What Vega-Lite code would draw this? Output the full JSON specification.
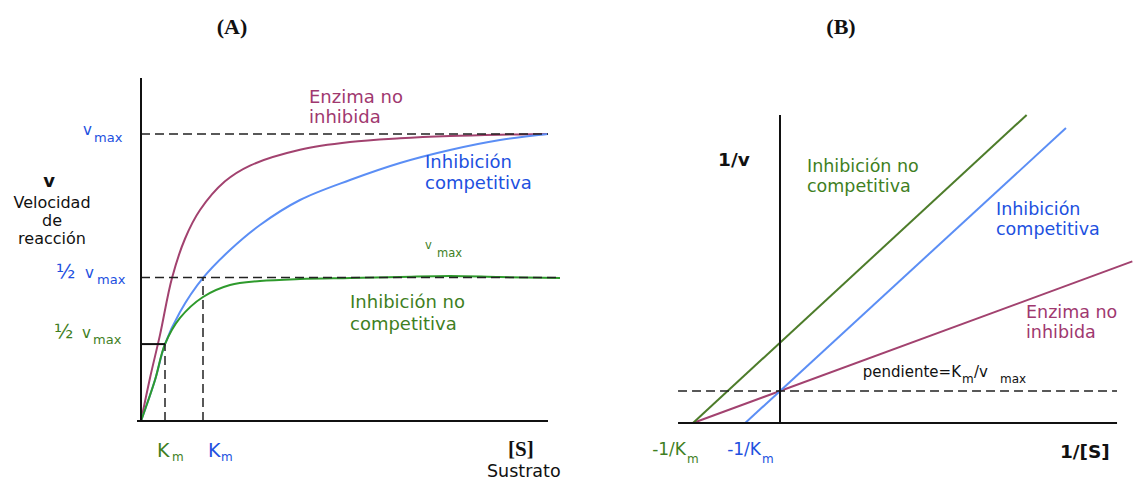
{
  "$schema": "https://vega.github.io/schema/vega-lite/v6.json",
  "padding": 0,
  "spacing": 0,
  "bounds": "flush",
  "background": "white",
  "config": {"view": {"stroke": null}, "text": {"font": "DejaVu Sans"}},
  "resolve": {"scale": {"color": "independent"}},
  "datasets": {
    "a_curves": [
      {"serie": "Enzima no inhibida", "x": 0, "y": 0},
      {"serie": "Enzima no inhibida", "x": 0.225, "y": 0.15},
      {"serie": "Enzima no inhibida", "x": 0.475, "y": 0.3},
      {"serie": "Enzima no inhibida", "x": 0.775, "y": 0.4983},
      {"serie": "Enzima no inhibida", "x": 1.1, "y": 0.635},
      {"serie": "Enzima no inhibida", "x": 1.475, "y": 0.735},
      {"serie": "Enzima no inhibida", "x": 2.1, "y": 0.835},
      {"serie": "Enzima no inhibida", "x": 2.725, "y": 0.89},
      {"serie": "Enzima no inhibida", "x": 3.975, "y": 0.945},
      {"serie": "Enzima no inhibida", "x": 5.225, "y": 0.972},
      {"serie": "Enzima no inhibida", "x": 6.475, "y": 0.985},
      {"serie": "Enzima no inhibida", "x": 7.725, "y": 0.993},
      {"serie": "Enzima no inhibida", "x": 8.975, "y": 0.9975},
      {"serie": "Enzima no inhibida", "x": 10.175, "y": 1.0},
      {"serie": "Inhibición competitiva", "x": 0, "y": 0},
      {"serie": "Inhibición competitiva", "x": 0.35, "y": 0.1429},
      {"serie": "Inhibición competitiva", "x": 0.6, "y": 0.268},
      {"serie": "Inhibición competitiva", "x": 0.975, "y": 0.3798},
      {"serie": "Inhibición competitiva", "x": 1.55, "y": 0.4983},
      {"serie": "Inhibición competitiva", "x": 2.225, "y": 0.5958},
      {"serie": "Inhibición competitiva", "x": 2.975, "y": 0.6829},
      {"serie": "Inhibición competitiva", "x": 3.975, "y": 0.77},
      {"serie": "Inhibición competitiva", "x": 5.225, "y": 0.8397},
      {"serie": "Inhibición competitiva", "x": 6.475, "y": 0.899},
      {"serie": "Inhibición competitiva", "x": 7.725, "y": 0.9443},
      {"serie": "Inhibición competitiva", "x": 8.975, "y": 0.9791},
      {"serie": "Inhibición competitiva", "x": 10.175, "y": 1.0},
      {"serie": "Inhibición no competitiva", "x": 0, "y": 0},
      {"serie": "Inhibición no competitiva", "x": 0.35, "y": 0.1429},
      {"serie": "Inhibición no competitiva", "x": 0.6, "y": 0.268},
      {"serie": "Inhibición no competitiva", "x": 0.975, "y": 0.3589},
      {"serie": "Inhibición no competitiva", "x": 1.55, "y": 0.4321},
      {"serie": "Inhibición no competitiva", "x": 2.225, "y": 0.4739},
      {"serie": "Inhibición no competitiva", "x": 2.975, "y": 0.4878},
      {"serie": "Inhibición no competitiva", "x": 3.975, "y": 0.4948},
      {"serie": "Inhibición no competitiva", "x": 5.225, "y": 0.4983},
      {"serie": "Inhibición no competitiva", "x": 6.475, "y": 0.5017},
      {"serie": "Inhibición no competitiva", "x": 7.725, "y": 0.5052},
      {"serie": "Inhibición no competitiva", "x": 8.975, "y": 0.5017},
      {"serie": "Inhibición no competitiva", "x": 10.475, "y": 0.4983}
    ],
    "a_axes": [
      {"x": 0, "y": 0, "x2": 0, "y2": 1.195},
      {"x": -0.1, "y": 0, "x2": 10.175, "y2": 0},
      {"x": 0, "y": 0.268, "x2": 0.6, "y2": 0.268}
    ],
    "a_dashes": [
      {"x": 0, "y": 1, "x2": 10.175, "y2": 1},
      {"x": 0, "y": 0.5, "x2": 10.475, "y2": 0.5},
      {"x": 0.6, "y": 0, "x2": 0.6, "y2": 0.268},
      {"x": 1.55, "y": 0, "x2": 1.55, "y2": 0.5}
    ],
    "a_text": [
      {"k": "rotulo", "tono": "rotulo enzima", "t": "Enzima no", "x": 4.2, "y": 1.108},
      {"k": "rotulo", "tono": "rotulo enzima", "t": "inhibida", "x": 4.2, "y": 1.038},
      {"k": "rotulo", "tono": "rotulo competitiva", "t": "Inhibición", "x": 7.1, "y": 0.8815},
      {"k": "rotulo", "tono": "rotulo competitiva", "t": "competitiva", "x": 7.1, "y": 0.8084},
      {"k": "rotulo", "tono": "rotulo no competitiva", "t": "Inhibición no", "x": 5.225, "y": 0.3937},
      {"k": "rotulo", "tono": "rotulo no competitiva", "t": "competitiva", "x": 5.225, "y": 0.3171},
      {"k": "eje", "t": "Velocidad", "x": -2.225, "y": 0.7422},
      {"k": "eje", "t": "de", "x": -2.225, "y": 0.6794},
      {"k": "eje", "t": "reacción", "x": -2.225, "y": 0.6167},
      {"k": "negrita", "t": "v", "x": -2.3, "y": 0.8153},
      {"k": "v", "tono": "rotulo competitiva", "t": "v", "x": -1.45, "y": 0.9965},
      {"k": "medio", "tono": "rotulo competitiva", "t": "½", "x": -2.125, "y": 0.4983},
      {"k": "v", "tono": "rotulo competitiva", "t": "v", "x": -1.4, "y": 0.4983},
      {"k": "medio", "tono": "rotulo no competitiva", "t": "½", "x": -2.175, "y": 0.2892},
      {"k": "v", "tono": "rotulo no competitiva", "t": "v", "x": -1.475, "y": 0.2892},
      {"k": "sub", "tono": "rotulo competitiva", "t": "max", "x": -1.175, "y": 0.9721},
      {"k": "sub", "tono": "rotulo competitiva", "t": "max", "x": -1.1, "y": 0.4774},
      {"k": "sub", "tono": "rotulo no competitiva", "t": "max", "x": -1.2, "y": 0.2683},
      {"k": "chico", "tono": "rotulo no competitiva", "t": "v", "x": 7.1, "y": 0.5993},
      {"k": "chico", "tono": "rotulo no competitiva", "t": "max", "x": 7.4, "y": 0.5714},
      {"k": "K", "tono": "rotulo no competitiva", "t": "K", "x": 0.4, "y": -0.1254},
      {"k": "K", "tono": "rotulo competitiva", "t": "K", "x": 1.675, "y": -0.1254},
      {"k": "m", "tono": "rotulo no competitiva", "t": "m", "x": 0.775, "y": -0.1394},
      {"k": "m", "tono": "rotulo competitiva", "t": "m", "x": 2.0, "y": -0.1394},
      {"k": "S", "t": "[S]", "x": 9.175, "y": -0.122},
      {"k": "sustrato", "t": "Sustrato", "x": 8.65, "y": -0.1965},
      {"k": "titulo", "t": "(A)", "x": 2.275, "y": 1.3484}
    ],
    "b_lines": [
      {"serie": "Enzima no inhibida", "x": -1, "y": 0},
      {"serie": "Enzima no inhibida", "x": 4.05, "y": 5.05},
      {"serie": "Inhibición competitiva", "x": -0.4, "y": 0},
      {"serie": "Inhibición competitiva", "x": 3.287, "y": 9.2175},
      {"serie": "Inhibición no competitiva", "x": -1, "y": 0},
      {"serie": "Inhibición no competitiva", "x": 2.835, "y": 9.626}
    ],
    "b_axes": [
      {"x": 0, "y": 0, "x2": 0, "y2": 9.625},
      {"x": -1.172, "y": 0, "x2": 3.874, "y2": 0}
    ],
    "b_dashes": [
      {"x": -1.172, "y": 1, "x2": 3.874, "y2": 1}
    ],
    "b_text": [
      {"k": "rotulo", "tono": "rotulo no competitiva", "t": "Inhibición no", "x": 0.3103, "y": 7.844},
      {"k": "rotulo", "tono": "rotulo no competitiva", "t": "competitiva", "x": 0.3103, "y": 7.219},
      {"k": "rotulo", "tono": "rotulo competitiva", "t": "Inhibición", "x": 2.4828, "y": 6.5},
      {"k": "rotulo", "tono": "rotulo competitiva", "t": "competitiva", "x": 2.4828, "y": 5.875},
      {"k": "rotulo", "tono": "rotulo enzima", "t": "Enzima no", "x": 2.8276, "y": 3.281},
      {"k": "rotulo", "tono": "rotulo enzima", "t": "inhibida", "x": 2.8276, "y": 2.656},
      {"k": "negrita", "t": "1/v", "x": -0.7126, "y": 8.031},
      {"k": "negrita", "t": "1/[S]", "x": 3.218, "y": -1.094},
      {"k": "pend_d", "t": "pendiente=K", "x": 2.0805, "y": 1.4375},
      {"k": "pend_i", "t": "/v", "x": 2.2299, "y": 1.4375},
      {"k": "pend_sub", "t": "m", "x": 2.092, "y": 1.25},
      {"k": "pend_sub", "t": "max", "x": 2.5287, "y": 1.25},
      {"k": "inv", "tono": "rotulo no competitiva", "t": "-1/K", "x": -1.0805, "y": -1.0},
      {"k": "inv", "tono": "rotulo competitiva", "t": "-1/K", "x": -0.2184, "y": -1.0},
      {"k": "m", "tono": "rotulo no competitiva", "t": "m", "x": -1.069, "y": -1.25},
      {"k": "m", "tono": "rotulo competitiva", "t": "m", "x": -0.2069, "y": -1.25},
      {"k": "titulo", "t": "(B)", "x": 0.7011, "y": 12.156}
    ]
  },
  "hconcat": [
    {
      "width": 600,
      "height": 486,
      "encoding": {
        "x": {"field": "x", "type": "quantitative", "axis": null, "scale": {"domain": [-3.525, 11.475], "nice": false, "zero": false}},
        "y": {"field": "y", "type": "quantitative", "axis": null, "scale": {"domain": [-0.22648, 1.4669], "nice": false, "zero": false}}
      },
      "layer": [
        {
          "data": {"name": "a_curves"},
          "mark": {"type": "line", "interpolate": "catmull-rom", "strokeWidth": 2},
          "encoding": {
            "color": {"field": "serie", "type": "nominal", "legend": null,
              "scale": {"domain": ["Enzima no inhibida", "Inhibición competitiva", "Inhibición no competitiva", "rotulo enzima", "rotulo competitiva", "rotulo no competitiva"],
                        "range": ["#a2426f", "#5b8ef5", "#2e9a2c", "#a0386f", "#2150e0", "#3f7f1f"]}}
          }
        },
        {
          "data": {"name": "a_dashes"},
          "mark": {"type": "rule", "color": "#222222", "strokeWidth": 1.5, "strokeDash": [9, 5]},
          "encoding": {"x2": {"field": "x2"}, "y2": {"field": "y2"}}
        },
        {
          "data": {"name": "a_axes"},
          "mark": {"type": "rule", "color": "#111111", "strokeWidth": 2},
          "encoding": {"x2": {"field": "x2"}, "y2": {"field": "y2"}}
        },
        {
          "data": {"name": "a_text"},
          "transform": [{"filter": "datum.k === 'rotulo'"}],
          "mark": {"type": "text", "align": "left", "baseline": "alphabetic", "fontSize": 18},
          "encoding": {
            "text": {"field": "t"},
            "color": {"field": "tono", "type": "nominal", "legend": null,
              "scale": {"domain": ["Enzima no inhibida", "Inhibición competitiva", "Inhibición no competitiva", "rotulo enzima", "rotulo competitiva", "rotulo no competitiva"],
                        "range": ["#a2426f", "#5b8ef5", "#2e9a2c", "#a0386f", "#2150e0", "#3f7f1f"]}}
          }
        },
        {
          "data": {"name": "a_text"},
          "transform": [{"filter": "datum.k === 'v'"}],
          "mark": {"type": "text", "align": "left", "baseline": "alphabetic", "fontSize": 15},
          "encoding": {
            "text": {"field": "t"},
            "color": {"field": "tono", "type": "nominal", "legend": null,
              "scale": {"domain": ["Enzima no inhibida", "Inhibición competitiva", "Inhibición no competitiva", "rotulo enzima", "rotulo competitiva", "rotulo no competitiva"],
                        "range": ["#a2426f", "#5b8ef5", "#2e9a2c", "#a0386f", "#2150e0", "#3f7f1f"]}}
          }
        },
        {
          "data": {"name": "a_text"},
          "transform": [{"filter": "datum.k === 'medio'"}],
          "mark": {"type": "text", "align": "left", "baseline": "alphabetic", "fontSize": 20},
          "encoding": {
            "text": {"field": "t"},
            "color": {"field": "tono", "type": "nominal", "legend": null,
              "scale": {"domain": ["Enzima no inhibida", "Inhibición competitiva", "Inhibición no competitiva", "rotulo enzima", "rotulo competitiva", "rotulo no competitiva"],
                        "range": ["#a2426f", "#5b8ef5", "#2e9a2c", "#a0386f", "#2150e0", "#3f7f1f"]}}
          }
        },
        {
          "data": {"name": "a_text"},
          "transform": [{"filter": "datum.k === 'sub'"}],
          "mark": {"type": "text", "align": "left", "baseline": "alphabetic", "fontSize": 13},
          "encoding": {
            "text": {"field": "t"},
            "color": {"field": "tono", "type": "nominal", "legend": null,
              "scale": {"domain": ["Enzima no inhibida", "Inhibición competitiva", "Inhibición no competitiva", "rotulo enzima", "rotulo competitiva", "rotulo no competitiva"],
                        "range": ["#a2426f", "#5b8ef5", "#2e9a2c", "#a0386f", "#2150e0", "#3f7f1f"]}}
          }
        },
        {
          "data": {"name": "a_text"},
          "transform": [{"filter": "datum.k === 'chico'"}],
          "mark": {"type": "text", "align": "left", "baseline": "alphabetic", "fontSize": 11.5},
          "encoding": {
            "text": {"field": "t"},
            "color": {"field": "tono", "type": "nominal", "legend": null,
              "scale": {"domain": ["Enzima no inhibida", "Inhibición competitiva", "Inhibición no competitiva", "rotulo enzima", "rotulo competitiva", "rotulo no competitiva"],
                        "range": ["#a2426f", "#5b8ef5", "#2e9a2c", "#a0386f", "#2150e0", "#3f7f1f"]}}
          }
        },
        {
          "data": {"name": "a_text"},
          "transform": [{"filter": "datum.k === 'K'"}],
          "mark": {"type": "text", "align": "left", "baseline": "alphabetic", "fontSize": 19},
          "encoding": {
            "text": {"field": "t"},
            "color": {"field": "tono", "type": "nominal", "legend": null,
              "scale": {"domain": ["Enzima no inhibida", "Inhibición competitiva", "Inhibición no competitiva", "rotulo enzima", "rotulo competitiva", "rotulo no competitiva"],
                        "range": ["#a2426f", "#5b8ef5", "#2e9a2c", "#a0386f", "#2150e0", "#3f7f1f"]}}
          }
        },
        {
          "data": {"name": "a_text"},
          "transform": [{"filter": "datum.k === 'm'"}],
          "mark": {"type": "text", "align": "left", "baseline": "alphabetic", "fontSize": 12},
          "encoding": {
            "text": {"field": "t"},
            "color": {"field": "tono", "type": "nominal", "legend": null,
              "scale": {"domain": ["Enzima no inhibida", "Inhibición competitiva", "Inhibición no competitiva", "rotulo enzima", "rotulo competitiva", "rotulo no competitiva"],
                        "range": ["#a2426f", "#5b8ef5", "#2e9a2c", "#a0386f", "#2150e0", "#3f7f1f"]}}
          }
        },
        {
          "data": {"name": "a_text"},
          "transform": [{"filter": "datum.k === 'eje'"}],
          "mark": {"type": "text", "align": "center", "baseline": "alphabetic", "fontSize": 16, "color": "#111111"},
          "encoding": {"text": {"field": "t"}}
        },
        {
          "data": {"name": "a_text"},
          "transform": [{"filter": "datum.k === 'negrita'"}],
          "mark": {"type": "text", "align": "center", "baseline": "alphabetic", "fontSize": 18, "fontWeight": "bold", "color": "#111111"},
          "encoding": {"text": {"field": "t"}}
        },
        {
          "data": {"name": "a_text"},
          "transform": [{"filter": "datum.k === 'S'"}],
          "mark": {"type": "text", "align": "left", "baseline": "alphabetic", "fontSize": 21, "fontWeight": "bold", "font": "Liberation Serif", "color": "#111111"},
          "encoding": {"text": {"field": "t"}}
        },
        {
          "data": {"name": "a_text"},
          "transform": [{"filter": "datum.k === 'sustrato'"}],
          "mark": {"type": "text", "align": "left", "baseline": "alphabetic", "fontSize": 17.5, "color": "#111111"},
          "encoding": {"text": {"field": "t"}}
        },
        {
          "data": {"name": "a_text"},
          "transform": [{"filter": "datum.k === 'titulo'"}],
          "mark": {"type": "text", "align": "center", "baseline": "alphabetic", "fontSize": 22, "fontWeight": "bold", "font": "Liberation Serif", "color": "#111111"},
          "encoding": {"text": {"field": "t"}}
        }
      ]
    },
    {
      "width": 534,
      "height": 486,
      "encoding": {
        "x": {"field": "x", "type": "quantitative", "axis": null, "scale": {"domain": [-2.069, 4.069], "nice": false, "zero": false}},
        "y": {"field": "y", "type": "quantitative", "axis": null, "scale": {"domain": [-1.96875, 13.21875], "nice": false, "zero": false}}
      },
      "layer": [
        {
          "data": {"name": "b_lines"},
          "mark": {"type": "line", "strokeWidth": 2},
          "encoding": {
            "color": {"field": "serie", "type": "nominal", "legend": null,
              "scale": {"domain": ["Enzima no inhibida", "Inhibición competitiva", "Inhibición no competitiva", "rotulo enzima", "rotulo competitiva", "rotulo no competitiva"],
                        "range": ["#a2426f", "#5b8ef5", "#4d7c2a", "#a0386f", "#2150e0", "#3f7f1f"]}}
          }
        },
        {
          "data": {"name": "b_dashes"},
          "mark": {"type": "rule", "color": "#222222", "strokeWidth": 1.5, "strokeDash": [9, 5]},
          "encoding": {"x2": {"field": "x2"}, "y2": {"field": "y2"}}
        },
        {
          "data": {"name": "b_axes"},
          "mark": {"type": "rule", "color": "#111111", "strokeWidth": 2},
          "encoding": {"x2": {"field": "x2"}, "y2": {"field": "y2"}}
        },
        {
          "data": {"name": "b_text"},
          "transform": [{"filter": "datum.k === 'rotulo'"}],
          "mark": {"type": "text", "align": "left", "baseline": "alphabetic", "fontSize": 17.5},
          "encoding": {
            "text": {"field": "t"},
            "color": {"field": "tono", "type": "nominal", "legend": null,
              "scale": {"domain": ["Enzima no inhibida", "Inhibición competitiva", "Inhibición no competitiva", "rotulo enzima", "rotulo competitiva", "rotulo no competitiva"],
                        "range": ["#a2426f", "#5b8ef5", "#4d7c2a", "#a0386f", "#2150e0", "#3f7f1f"]}}
          }
        },
        {
          "data": {"name": "b_text"},
          "transform": [{"filter": "datum.k === 'inv'"}],
          "mark": {"type": "text", "align": "right", "baseline": "alphabetic", "fontSize": 17},
          "encoding": {
            "text": {"field": "t"},
            "color": {"field": "tono", "type": "nominal", "legend": null,
              "scale": {"domain": ["Enzima no inhibida", "Inhibición competitiva", "Inhibición no competitiva", "rotulo enzima", "rotulo competitiva", "rotulo no competitiva"],
                        "range": ["#a2426f", "#5b8ef5", "#4d7c2a", "#a0386f", "#2150e0", "#3f7f1f"]}}
          }
        },
        {
          "data": {"name": "b_text"},
          "transform": [{"filter": "datum.k === 'm'"}],
          "mark": {"type": "text", "align": "left", "baseline": "alphabetic", "fontSize": 12},
          "encoding": {
            "text": {"field": "t"},
            "color": {"field": "tono", "type": "nominal", "legend": null,
              "scale": {"domain": ["Enzima no inhibida", "Inhibición competitiva", "Inhibición no competitiva", "rotulo enzima", "rotulo competitiva", "rotulo no competitiva"],
                        "range": ["#a2426f", "#5b8ef5", "#4d7c2a", "#a0386f", "#2150e0", "#3f7f1f"]}}
          }
        },
        {
          "data": {"name": "b_text"},
          "transform": [{"filter": "datum.k === 'negrita'"}],
          "mark": {"type": "text", "align": "left", "baseline": "alphabetic", "fontSize": 18.5, "fontWeight": "bold", "color": "#111111"},
          "encoding": {"text": {"field": "t"}}
        },
        {
          "data": {"name": "b_text"},
          "transform": [{"filter": "datum.k === 'pend_d'"}],
          "mark": {"type": "text", "align": "right", "baseline": "alphabetic", "fontSize": 15, "color": "#111111"},
          "encoding": {"text": {"field": "t"}}
        },
        {
          "data": {"name": "b_text"},
          "transform": [{"filter": "datum.k === 'pend_i'"}],
          "mark": {"type": "text", "align": "left", "baseline": "alphabetic", "fontSize": 15, "color": "#111111"},
          "encoding": {"text": {"field": "t"}}
        },
        {
          "data": {"name": "b_text"},
          "transform": [{"filter": "datum.k === 'pend_sub'"}],
          "mark": {"type": "text", "align": "left", "baseline": "alphabetic", "fontSize": 12, "color": "#111111"},
          "encoding": {"text": {"field": "t"}}
        },
        {
          "data": {"name": "b_text"},
          "transform": [{"filter": "datum.k === 'titulo'"}],
          "mark": {"type": "text", "align": "center", "baseline": "alphabetic", "fontSize": 22, "fontWeight": "bold", "font": "Liberation Serif", "color": "#111111"},
          "encoding": {"text": {"field": "t"}}
        }
      ]
    }
  ]
}
